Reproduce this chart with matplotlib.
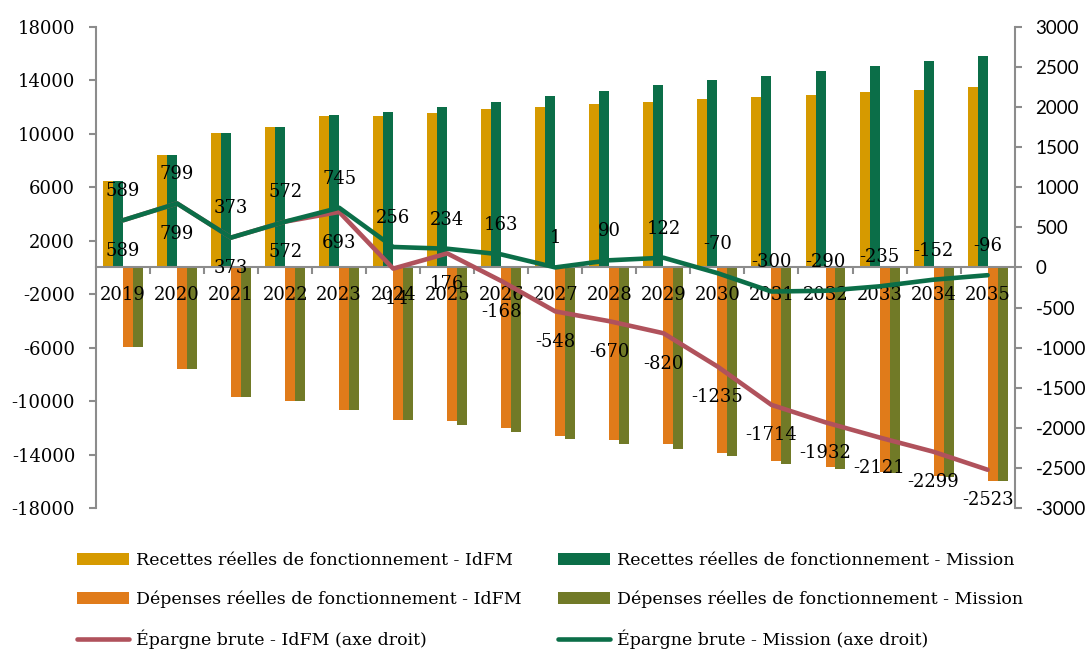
import numpy as np
import matplotlib
matplotlib.use("Agg")
import matplotlib.pyplot as plt
from matplotlib.ticker import FixedLocator

plt.rcParams['font.family'] = ['DejaVu Serif']
plt.rcParams['font.size'] = 13
plt.rcParams['axes.unicode_minus'] = False

# Données
annees = ['2019', '2020', '2021', '2022', '2023', '2024', '2025', '2026', '2027',
          '2028', '2029', '2030', '2031', '2032', '2033', '2034', '2035']
recettes_idfm = [6500, 8400, 10070, 10550, 11350, 11350, 11600, 11850, 12020,
                 12220, 12410, 12590, 12770, 12910, 13120, 13290, 13490]
recettes_mission = [6500, 8400, 10070, 10550, 11400, 11620, 12000, 12390, 12820,
                    13240, 13640, 14010, 14360, 14730, 15100, 15460, 15850]
depenses_idfm = [-5940, -7590, -9710, -10000, -10680, -11400, -11470, -12020, -12600,
                 -12920, -13240, -13870, -14510, -14910, -15280, -15610, -15990]
depenses_mission = [-5940, -7590, -9710, -10000, -10680, -11420, -11800, -12300, -12870,
                    -13190, -13570, -14120, -14710, -15060, -15390, -15660, -15990]
epargne_idfm = [589, 799, 373, 572, 693, -14, 176, -168, -548, -670, -820,
                -1235, -1714, -1932, -2121, -2299, -2523]
epargne_mission = [589, 799, 373, 572, 745, 256, 234, 163, 1, 90, 122,
                   -70, -300, -290, -235, -152, -96]

c_rec_idfm = '#d69a00'
c_rec_mis = '#0b6e48'
c_dep_idfm = '#e07b1a'
c_dep_mis = '#717a27'
c_ep_idfm = '#b0525c'
c_ep_mis = '#0b6e48'
gris = '#8c8c8c'

x = np.arange(len(annees))
w = 0.185

fig = plt.figure(figsize=(10.91, 6.51), dpi=100)
ax = fig.add_axes([0.088, 0.2197, 0.842, 0.7388])
ax2 = ax.twinx()

b1 = ax.bar(x - 1.5 * w, recettes_idfm, w, color=c_rec_idfm,
            label='Recettes réelles de fonctionnement - IdFM')
b2 = ax.bar(x - 0.5 * w, recettes_mission, w, color=c_rec_mis,
            label='Recettes réelles de fonctionnement - Mission')
b3 = ax.bar(x + 0.5 * w, depenses_idfm, w, color=c_dep_idfm,
            label='Dépenses réelles de fonctionnement - IdFM')
b4 = ax.bar(x + 1.5 * w, depenses_mission, w, color=c_dep_mis,
            label='Dépenses réelles de fonctionnement - Mission')

l1, = ax2.plot(x, epargne_idfm, color=c_ep_idfm, lw=3.3, solid_capstyle='round',
               solid_joinstyle='round', label='Épargne brute - IdFM (axe droit)')
l2, = ax2.plot(x, epargne_mission, color=c_ep_mis, lw=3.3, solid_capstyle='round',
               solid_joinstyle='round', label='Épargne brute - Mission (axe droit)')

# Étiquettes des lignes
for xi, v in zip(x, epargne_idfm):
    ax2.annotate(str(v), (xi, v), xytext=(0, -22), textcoords='offset points',
                 ha='center', va='center', fontsize=13)
for xi, v in zip(x, epargne_mission):
    ax2.annotate(str(v), (xi, v), xytext=(0, 21), textcoords='offset points',
                 ha='center', va='center', fontsize=13)

# Axes
ax.set_xlim(-0.5, len(annees) - 0.5)
ax.set_ylim(-18000, 18000)
ax2.set_ylim(-3000, 3000)
ax.set_yticks(np.arange(-18000, 18001, 4000))
ax2.set_yticks(np.arange(-3000, 3001, 500))

ax.set_xticks(x)
ax.set_xticklabels(annees)
ax.xaxis.set_minor_locator(FixedLocator(x[:-1] + 0.5))
ax.tick_params(axis='x', which='major', length=0, pad=13, labelsize=13)
ax.tick_params(axis='x', which='minor', length=5, width=1.5, color=gris, direction='out')
ax.tick_params(axis='y', length=5, width=1.5, color=gris, labelsize=13, pad=10)
ax2.tick_params(axis='y', length=5, width=1.5, color=gris, pad=10,
                labelsize=13.5, labelfontfamily='Lato')

for a in (ax, ax2):
    a.spines['top'].set_visible(False)
    for s in ('left', 'right', 'bottom'):
        a.spines[s].set_color(gris)
        a.spines[s].set_linewidth(1.5)
ax.spines['bottom'].set_position(('data', 0))
ax2.spines['bottom'].set_visible(False)
ax.spines['right'].set_visible(False)
ax2.spines['left'].set_visible(False)

# Légende
handles = [b1, b3, l1, b2, b4, l2]
fig.legend(handles, [h.get_label() for h in handles], loc='upper left',
           bbox_to_anchor=(0.0706, 0.152), ncol=2, frameon=False,
           fontsize=12.5, handlelength=3.0, handletextpad=0.4,
           columnspacing=2.1, labelspacing=1.25, borderpad=0, borderaxespad=0)

fig.savefig('out.png', dpi=100)
